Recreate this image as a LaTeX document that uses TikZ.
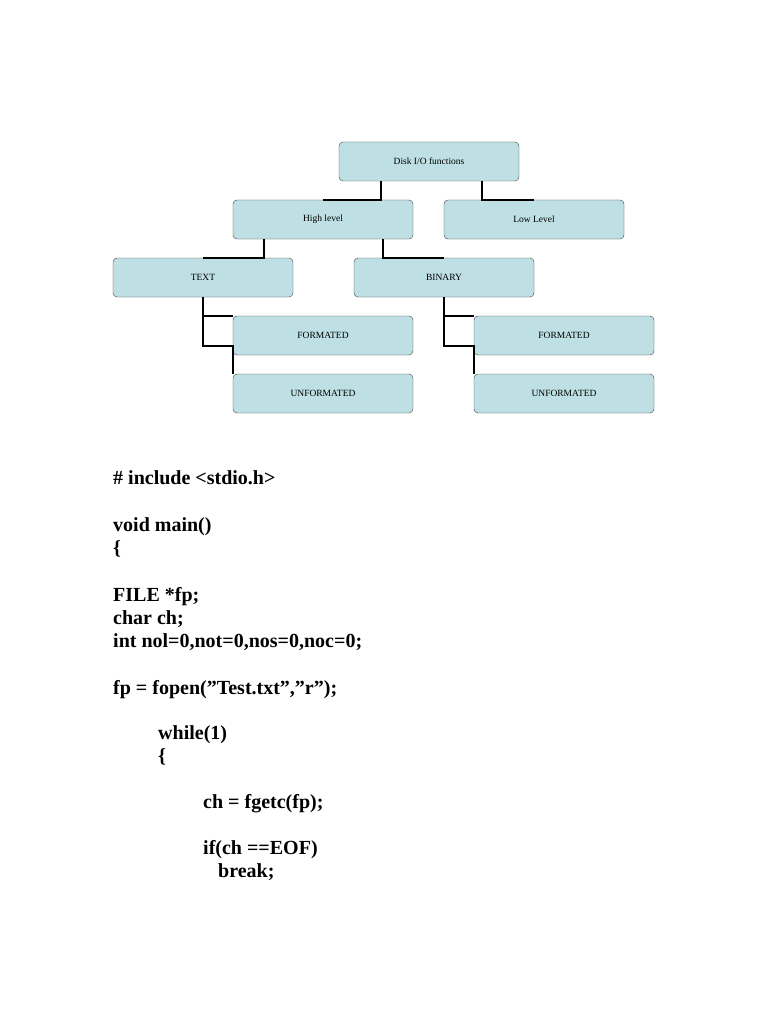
\documentclass[tikz,border=0pt]{standalone}
\usepackage{fontspec}
\setmainfont{Liberation Serif}
\usetikzlibrary{positioning}
\definecolor{BoxBlue}{RGB}{190,224,228}

\begin{document}
\begin{tikzpicture}[x=1pt, y=-1pt,
          box/.style={rectangle, rounded corners=4pt, draw=black!75, fill=BoxBlue, minimum width=180pt, minimum height=39pt, font=\fontsize{9.5}{10}\selectfont, text centered},
          link/.style={black, line width=2pt},
          code/.style={anchor=base west, inner sep=0pt, font=\fontsize{20}{22}\selectfont\bfseries}
        ]
          \useasboundingbox (0,0) rectangle (768,1024);

          \node (disk) [box] at (429,161.5) {Disk I/O functions};
          \node (high) [box] at (323,219.5) {High level};
          \node (low) [box] at (534,219.5) {Low Level};
          \node (text) [box] at (203,277.5) {TEXT};
          \node (binary) [box] at (444,277.5) {BINARY};
          \node (tform) [box] at (323,335.5) {FORMATED};
          \node (tunform) [box] at (323,393.5) {UNFORMATED};
          \node (bform) [box] at (564,335.5) {FORMATED};
          \node (bunform) [box] at (564,393.5) {UNFORMATED};

          \coordinate (tk) at (203,346);
          \coordinate (bk) at (444,346);

          \draw[link] (disk.south -| 381,0) -- (high.north -| 381,0) -- (high.north -| 323,0);
          \draw[link] (disk.south -| 482,0) -- (low.north -| 482,0) -- (low.north -| 534,0);
          \draw[link] (high.south -| 264,0) -- (text.north -| 264,0) -- (text.north -| 203,0);
          \draw[link] (high.south -| 383,0) -- (binary.north -| 383,0) -- (binary.north -| 444,0);
          \draw[link] (text.south) -- (tk) -- (tk -| tform.west) -- (tunform.north west);
          \draw[link] (text.south |- tform.north) -- (tform.north west);
          \draw[link] (binary.south) -- (bk) -- (bk -| bform.west) -- (bunform.north west);
          \draw[link] (binary.south |- bform.north) -- (bform.north west);

          \node (l1) [code] at (113,484) {\# include <stdio.h>};
          \node (l2) [code] at (113,531) {void main()};
          \node (l3) [code] at (113,554) {\{};
          \node (l4) [code] at (113,601) {FILE *fp;};
          \node (l5) [code] at (113,624) {char ch;};
          \node (l6) [code] at (113,647) {int nol=0,not=0,nos=0,noc=0;};
          \node (l7) [code] at (113,694) {fp = fopen(\char34 Test.txt\char34,\char34 r\char34);};
          \node (l8) [code] at (158,739) {while(1)};
          \node (l9) [code] at (158,762) {\{};
          \node (l10) [code] at (203,808) {ch = fgetc(fp);};
          \node (l11) [code] at (203,854) {if(ch ==EOF)};
          \node (l12) [code] at (218,877) {break;};
        \end{tikzpicture}
\end{document}
